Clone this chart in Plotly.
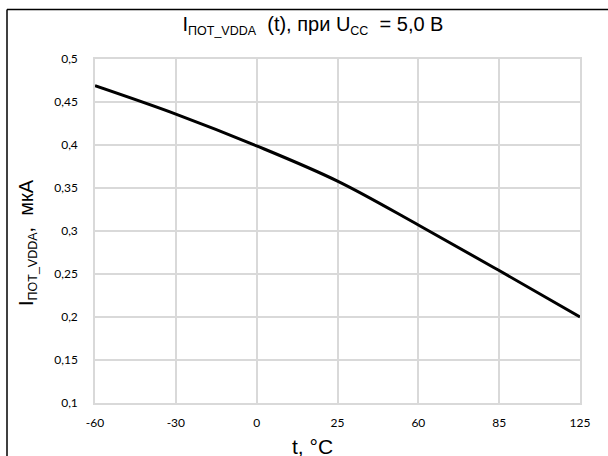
import plotly.graph_objects as go

# ---- data ----
temps = ["-60", "-30", "0", "25", "60", "85", "125"]
current = [0.469, 0.436, 0.399, 0.358, 0.307, 0.254, 0.200]
y_tick_vals = [0.1, 0.15, 0.2, 0.25, 0.3, 0.35, 0.4, 0.45, 0.5]
y_tick_text = ["0,1", "0,15", "0,2", "0,25", "0,3", "0,35", "0,4", "0,45", "0,5"]

SUB = '<sub><span style="font-size:12.5px">{}</span></sub>'
title_text = "I" + SUB.format("ПОТ_VDDA") + "  (t), при U" + SUB.format("CC") + "  = 5,0 В"
y_title = "I" + SUB.format("ПОТ_VDDA") + ",  мкА"
x_title = "t, °C"

W, H = 608, 456
L, R, T, B = 95, 580, 59, 403


def px(x):
    return (x - L) / (R - L)


def py(y):
    return (B - y) / (B - T)


fig = go.Figure()
fig.add_trace(go.Scatter(
    x=temps, y=current, mode="lines",
    line=dict(color="black", width=3, shape="spline", smoothing=1.0),
    showlegend=False, hoverinfo="skip",
))

grid = "#d9d9d9"
fig.update_layout(
    width=W, height=H,
    margin=dict(l=L, r=W - R, t=T, b=H - B),
    paper_bgcolor="white", plot_bgcolor="white",
    font=dict(family="Liberation Sans, Arial", color="black"),
    title=dict(text=title_text, x=px(313), xref="paper", xanchor="center",
               y=1 - 24 / H, yref="container", yanchor="middle",
               font=dict(family="Liberation Sans, Arial", size=20, color="black")),
    xaxis=dict(type="category", range=[0, len(temps) - 1],
               showgrid=True, gridcolor=grid, gridwidth=1.5,
               showline=True, linecolor=grid, linewidth=1.5, mirror=True,
               zeroline=False, ticks="", ticklabelstandoff=8,
               tickfont=dict(family="Lato, Open Sans", size=12, color="black")),
    yaxis=dict(range=[0.1, 0.5], tickvals=y_tick_vals, ticktext=y_tick_text,
               showgrid=True, gridcolor=grid, gridwidth=1.5,
               showline=True, linecolor=grid, linewidth=1.5, mirror=True,
               zeroline=False, ticks="", ticklabelstandoff=13,
               tickfont=dict(family="Lato, Open Sans", size=12, color="black")),
    annotations=[
        dict(text=y_title, x=px(27), y=py(243), xref="paper", yref="paper",
             textangle=-90, showarrow=False, xanchor="center", yanchor="middle",
             font=dict(family="Liberation Sans, Arial", size=20, color="black")),
        dict(text=x_title, x=px(312), y=py(446), xref="paper", yref="paper",
             showarrow=False, xanchor="center", yanchor="middle",
             font=dict(family="Liberation Sans, Arial", size=21, color="black")),
    ],
    shapes=[
        dict(type="line", xref="paper", yref="paper", x0=px(7), y0=py(9.5), x1=px(W + 2), y1=py(9.5),
             line=dict(color="black", width=1.5)),
        dict(type="line", xref="paper", yref="paper", x0=px(7), y0=py(9.5), x1=px(7), y1=py(H + 2),
             line=dict(color="black", width=1.5)),
    ],
)

fig.write_html("out.html", config={"displayModeBar": False},
               post_script="document.body.style.margin='0';document.body.style.overflow='hidden';")
